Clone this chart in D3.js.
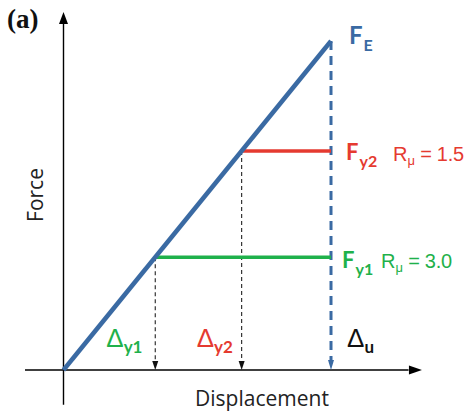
<!DOCTYPE html>
<html><head><meta charset="utf-8">
<script src="https://cdn.jsdelivr.net/npm/d3@7"></script>
<style>body{margin:0;background:#fff}svg{display:block}</style>
</head><body>
<script>
// Data (normalized): yield / elastic levels
const levelNames = ["y1", "y2", "u"];
const displacementValues = [0.343, 0.666, 1.0];
const forceValues = [0.343, 0.666, 1.0];
const rMuLabels = ["3.0", "1.5"];
const forceLabels = ["y1", "y2", "E"];

const blue = "#3a6aa3", red = "#e53a30", green = "#1fb14b";
const W = 467, H = 414;
const svg = d3.select("body").append("svg").attr("width", W).attr("height", H);

const x = d3.scaleLinear().domain([0, 1]).range([63.5, 331]);
const y = d3.scaleLinear().domain([0, 1]).range([370, 41]);

// Axes
const axisColor = "#000";
svg.append("line").attr("x1", x(-0.144)).attr("x2", x(1.29)).attr("y1", y(0)).attr("y2", y(0))
  .attr("stroke", axisColor).attr("stroke-width", 1.4);
const xe = x(1.34);
svg.append("path").attr("d", `M${xe},${y(0)} L${xe-13},${y(0)-4.5} L${xe-13},${y(0)+4.5} Z`).attr("fill", axisColor);
svg.append("line").attr("x1", x(0)).attr("x2", x(0)).attr("y1", y(-0.106)).attr("y2", y(1.06))
  .attr("stroke", axisColor).attr("stroke-width", 1.4);
const ye = y(1.088);
svg.append("path").attr("d", `M${x(0)},${ye} L${x(0)-4.5},${ye+12} L${x(0)+4.5},${ye+12} Z`).attr("fill", axisColor);

// arrowhead helper (pointing down to axis)
function downArrow(cx, tipY, color, w, h) {
  svg.append("path").attr("d", `M${cx},${tipY} L${cx-w/2},${tipY-h} L${cx+w/2},${tipY-h} Z`).attr("fill", color);
}

// Dashed guide lines for yield displacements
[0, 1].forEach(i => {
  const dx = x(displacementValues[i]);
  svg.append("line").attr("x1", dx).attr("x2", dx).attr("y1", y(forceValues[i])).attr("y2", y(0) - 7)
    .attr("stroke", "#222").attr("stroke-width", 1.1).attr("stroke-dasharray", "4,3");
  downArrow(dx, y(0), "#111", 6, 9);
});
// Blue dashed ultimate line
svg.append("line").attr("x1", x(1)).attr("x2", x(1)).attr("y1", y(1)).attr("y2", y(0) - 8)
  .attr("stroke", blue).attr("stroke-width", 3).attr("stroke-dasharray", "9,6");
downArrow(x(1), y(0), blue, 6, 10);

// Horizontal yield lines
const yColors = [green, red];
[0, 1].forEach(i => {
  svg.append("line").attr("x1", x(displacementValues[i])).attr("x2", x(1))
    .attr("y1", y(forceValues[i])).attr("y2", y(forceValues[i]))
    .attr("stroke", yColors[i]).attr("stroke-width", 3.5);
});

// Elastic line
svg.append("line").attr("x1", x(0)).attr("y1", y(0)).attr("x2", x(1)).attr("y2", y(1))
  .attr("stroke", blue).attr("stroke-width", 4.5).attr("stroke-linecap", "butt");

// Labels
const boldFont = "Lato, 'Open Sans', sans-serif";
const regFont = "'Liberation Sans', Arial, sans-serif";

function fLabel(px, py, sub, color, fs) {
  const t = svg.append("text").attr("x", px).attr("y", py).attr("fill", color)
    .attr("font-family", boldFont).attr("font-weight", "bold");
  t.append("tspan").attr("font-size", fs).text("F");
  t.append("tspan").attr("font-size", 16).attr("dx", 1).attr("dy", 7).text(sub);
}
fLabel(x(1) + 18, y(1) + 3, forceLabels[2], blue, 24);
fLabel(x(1) + 15, y(forceValues[1]) + 9, forceLabels[1], red, 22);
fLabel(x(1) + 11, y(forceValues[0]) + 11, forceLabels[0], green, 22);

function rLabel(px, py, val, color) {
  const t = svg.append("text").attr("x", px).attr("y", py).attr("fill", color)
    .attr("font-family", regFont).attr("font-size", 20);
  t.append("tspan").text("R");
  t.append("tspan").attr("font-size", 13).attr("dy", 4).text("μ");
  t.append("tspan").attr("dy", -4).attr("letter-spacing", -0.3).text(" = " + val);
}
rLabel(x(1) + 62, y(forceValues[1]) + 10, rMuLabels[1], red);
rLabel(x(1) + 50, y(forceValues[0]) + 11, rMuLabels[0], green);

function dLabel(px, py, sub, color) {
  const t = svg.append("text").attr("x", px).attr("y", py).attr("fill", color)
    .attr("font-family", regFont);
  t.append("tspan").attr("font-size", 26).text("Δ");
  t.append("tspan").attr("font-size", 17).attr("font-weight", "bold").attr("font-family", boldFont)
    .attr("dx", 0).attr("dy", 6).text(sub);
}
dLabel(x(displacementValues[0]) - 49, 347, levelNames[0], green);
dLabel(x(displacementValues[1]) - 45, 347, levelNames[1], red);
dLabel(x(1) + 16, 347, levelNames[2], "#111");

// Axis titles
svg.append("text").attr("x", 262).attr("y", 406).attr("text-anchor", "middle")
  .attr("font-family", "'Open Sans', sans-serif").attr("font-size", 21).attr("fill", "#222").text("Displacement");
svg.append("text").attr("transform", "translate(43,195) rotate(-90)").attr("text-anchor", "middle")
  .attr("font-family", "'Open Sans', sans-serif").attr("font-size", 21).attr("fill", "#222").text("Force");

// Panel label
svg.append("text").attr("x", 7).attr("y", 28).attr("font-family", "'Liberation Serif', 'Times New Roman', serif")
  .attr("font-weight", "bold").attr("font-size", 27).attr("fill", "#111").text("(a)");
</script>
</body></html>
